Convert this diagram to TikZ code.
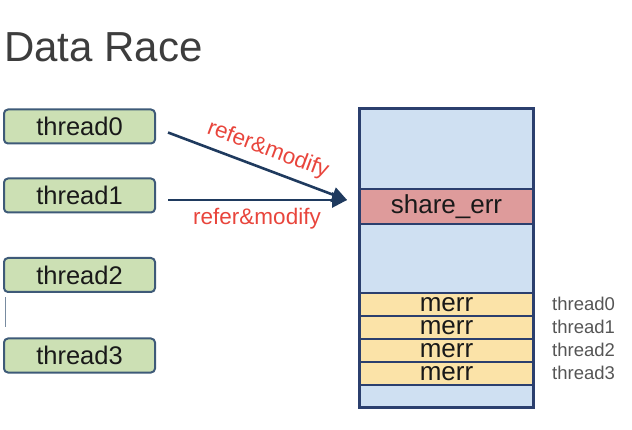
\documentclass[tikz,border=0pt]{standalone}
\usepackage{fontspec}
\setmainfont{Liberation Sans}
\usetikzlibrary{arrows.meta}
\definecolor{thrfill}{HTML}{CCE0B4}
\definecolor{thrdraw}{HTML}{3E5A78}
\definecolor{memblue}{HTML}{CFE0F2}
\definecolor{memdraw}{HTML}{2B3F6E}
\definecolor{shred}{HTML}{DE9B9B}
\definecolor{merrfill}{HTML}{FBE3A8}
\definecolor{arrcol}{HTML}{1F3A5E}
\definecolor{labred}{HTML}{E8453C}
\definecolor{titlecol}{HTML}{3D3D3D}
\definecolor{sidecol}{HTML}{555555}
\tikzset{
  thrbox/.style={draw=thrdraw, fill=thrfill, line width=2pt, rounded corners=4pt,
    minimum width=151pt, minimum height=34pt, inner sep=0pt,
    font=\fontsize{25.5}{25.5}\selectfont, text=black!90},
  memrow/.style={draw=memdraw, line width=1.8pt, minimum width=173pt, inner sep=0pt,
    font=\fontsize{26}{26}\selectfont, text=black!90},
  arr/.style={draw=arrcol, line width=2.6pt, -{Triangle[length=15pt,width=15pt]}},
  lab/.style={text=labred, font=\fontsize{22.5}{22.5}\selectfont, inner sep=0pt},
  side/.style={text=sidecol, font=\fontsize{18.5}{18.5}\selectfont, anchor=west, inner sep=0pt}
}
\begin{document}
\begin{tikzpicture}[x=1pt,y=-1pt]
\useasboundingbox (0,0) rectangle (632,430);
\node[anchor=base west, inner sep=0pt, text=titlecol, font=\fontsize{42}{42}\selectfont] (title) at (4,62) {Data Race};

\node[thrbox] (t0) at (79.5,126.5) {thread0};
\node[thrbox] (t1) at (79.5,195.5) {thread1};
\node[thrbox] (t2) at (79.5,275) {thread2};
\node[thrbox] (t3) at (79.5,355.5) {thread3};

\draw[draw=thrdraw!70, line width=1pt] (5,297) -- (5,327);

% memory block
\node[memrow, fill=memblue, minimum height=298pt] (mem) at (446.5,258) {};
\node[memrow, fill=shred, minimum height=35pt] (sh) at (446.5,206.5) {share\_err};
\node[memrow, fill=merrfill, minimum height=23pt] (m0) at (446.5,304.5) {merr};
\node[memrow, fill=merrfill, minimum height=23pt] (m1) at (446.5,327.5) {merr};
\node[memrow, fill=merrfill, minimum height=23pt] (m2) at (446.5,350.5) {merr};
\node[memrow, fill=merrfill, minimum height=23pt] (m3) at (446.5,373.5) {merr};
\draw[draw=memdraw, line width=1.8pt] (mem.north west) rectangle (mem.south east);

\node[side] (s0) at (552,303.5) {thread0};
\node[side] (s1) at (552,326.5) {thread1};
\node[side] (s2) at (552,349.5) {thread2};
\node[side] (s3) at (552,372.5) {thread3};

\draw[arr] ([xshift=12pt,yshift=-6pt]t0.east) -- ([xshift=-12pt,yshift=6.5pt]sh.west);
\draw[arr] ([xshift=12pt,yshift=-4.5pt]t1.east) -- ([xshift=-12pt,yshift=6.5pt]sh.west);

\node[lab, rotate=-20.5] (l0) at (268,150) {refer\&modify};
\node[lab] (l1) at (257,219) {refer\&modify};
\end{tikzpicture}
\end{document}
